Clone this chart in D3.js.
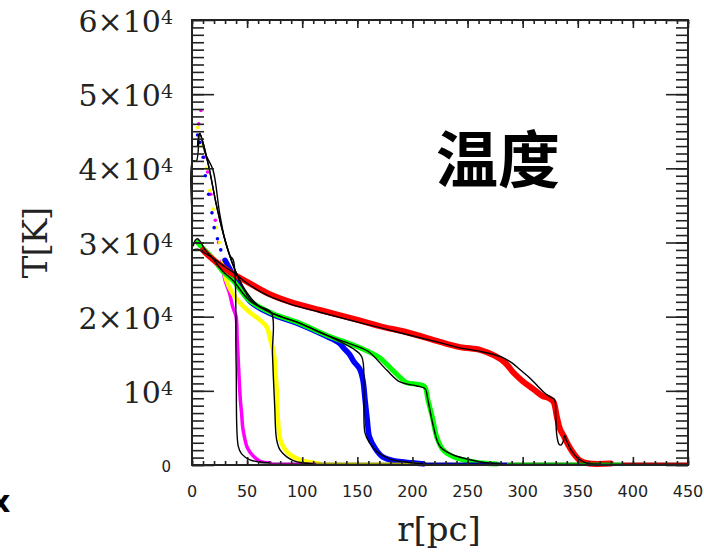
<!DOCTYPE html>
<html>
<head>
    <meta charset="utf-8">
    <title>T[K] vs r[pc]</title>
    <script src="https://d3js.org/d3.v7.min.js"></script>
    <style>
        html, body { margin: 0; padding: 0; background: #fff; }
        svg { display: block; }
    </style>
</head>
<body>
<div id="chart"></div>
<script>
    // tick values / labels
    const xTicks = [0, 50, 100, 150, 200, 250, 300, 350, 400, 450];
    const yTicks = [0, 10000, 20000, 30000, 40000, 50000, 60000];
    const yTickBase = ["0", "10", "2×10", "3×10", "4×10", "5×10", "6×10"];
    const yTickExp = ["", "4", "4", "4", "4", "4", "4"];

    // coloured simulation data [r (pc), T (K)] - sparse points near the peak
    const magentaSteep = [[7, 46000], [9, 47800], [12, 41500], [15, 39500], [18, 36500], [22, 33000], [25, 30000]];
    const yellowSteep = [[6, 45500], [10, 43000], [14, 40000], [17, 37000], [20, 34500], [23, 32000], [26, 30000]];
    const blueSteep = [[6, 44500], [8, 43500], [11, 41500], [13, 39000], [16, 36500], [19, 34000], [21, 32000], [24, 30500], [27, 29000]];

    // coloured simulation data [r (pc), T (K)] - dense part
    const magentaData = [[27, 27500], [30, 24900], [34, 23200], [37, 21300], [40, 20000], [41, 17000], [42, 14000], [43, 11000], [44, 8500], [45, 7000], [46, 5100], [48, 3500], [50, 2400], [55, 1300], [62, 500], [71, 300]];
    const yellowData = [[28, 27500], [31, 25000], [37, 23100], [50, 20900], [62, 19500], [68, 18600], [71, 16900], [74, 15300], [76, 12000], [77, 9700], [78, 6100], [80, 3500], [84, 2200], [89, 1400], [98, 700], [110, 300], [116, 150]];
    const blueData = [[30, 27600], [34, 26500], [39, 25200], [53, 22000], [72, 20350], [98, 18950], [122, 17350], [133, 16500], [138, 15700], [143, 14900], [147, 13900], [152, 13000], [155, 11500], [157, 8800], [159, 6100], [161, 3800], [166, 2300], [173, 1100], [186, 500], [200, 300], [210, 150]];
    const greenData = [[5, 30000], [10, 29200], [18, 28000], [28, 26100], [37, 24900], [52, 22200], [72, 20500], [98, 19100], [122, 17500], [146, 16200], [160, 15300], [170, 14500], [182, 12800], [195, 11100], [204, 10900], [211, 10600], [214, 8800], [218, 6500], [222, 3800], [228, 2000], [237, 1100], [249, 600], [260, 300], [277, 150]];
    const redData = [[10, 29000], [14.5, 28300], [25, 27000], [34.5, 26000], [50, 24700], [68, 23200], [89, 22000], [116, 20900], [152, 19500], [171, 18700], [195, 17900], [225, 16600], [243, 15900], [262, 15500], [275, 14700], [284, 13800], [292, 12400], [300, 11300], [310, 10200], [318, 9300], [324, 9000], [328, 8500], [331, 6500], [334, 4800], [337, 4000], [341, 2800], [346, 1600], [352, 600], [360, 200], [380, 200]];

    // black model curves [r (pc), T (K)]
    const magentaModel = [[0.5, 33000], [0.7, 41000], [4, 41000], [7, 44700], [12, 42000], [19, 39800], [25, 34000], [30, 30300], [34.5, 28200], [37.5, 27600], [40, 14000], [42, 2500], [45, 1500], [52.6, 700], [62, 400], [70, 300]];
    const yellowModel = [[5, 43000], [7, 44700], [14.5, 40700], [22.5, 34800], [30, 30300], [39, 26300], [50, 23200], [60, 21500], [72, 20500], [73, 15000], [75, 8000], [76.8, 3400], [80, 2000], [86, 1100], [92, 600], [100, 300], [110, 150]];
    const blueModel = [[5, 43000], [7, 44700], [14.5, 40700], [22.5, 34800], [30, 30300], [39, 26300], [52.6, 22400], [72, 20500], [98, 19100], [122, 17500], [140, 16200], [146, 15700], [154, 14600], [156, 10000], [157, 4300], [161.5, 2900], [167.6, 1800], [179.6, 800], [194, 400], [210, 150]];
    const greenModel = [[1, 29500], [3, 30300], [5, 30500], [8, 30000], [12, 29000], [18, 28000], [28, 26100], [37, 24900], [52, 22200], [72, 20500], [98, 19100], [122, 17500], [146, 16200], [160, 15300], [176.6, 12800], [188.7, 11200], [204, 10650], [211.4, 10300], [214, 8800], [219, 5200], [225, 2500], [237, 1350], [250, 800], [262, 400], [280, 150]];
    const redModel = [[1, 29000], [5, 29100], [10, 28700], [19, 27900], [30, 26700], [39, 25800], [50, 24500], [68, 22900], [89, 21700], [116, 20600], [152, 19200], [195, 17600], [225, 16500], [243, 15800], [262, 15300], [280, 14600], [290, 13800], [298, 12800], [306, 11800], [314, 10600], [320, 9700], [326, 9100], [329, 8800], [330, 6500], [331, 4000], [333, 2800], [335, 2700], [337, 3300], [338, 4000], [340, 3200], [344, 2000], [350, 900], [358, 250], [370, 100]];

    // zero-level segments along the r axis
    const zeroStart = [62, 71, 113, 207, 286, 390];
    const zeroEnd = [71, 113, 207, 286, 390, 450];
    const zeroColors = ["#999999", "#990099", "#999900", "#000099", "#009900", "#990000"];

    const W = 704, H = 553;
    const svg = d3.select("#chart").append("svg")
        .attr("width", W)
        .attr("height", H);

    const x = d3.scaleLinear().domain([0, 450]).range([192, 688]);
    const y = d3.scaleLinear().domain([0, 60000]).range([465, 20]);

    const line = d3.line()
        .x(d => x(d[0]))
        .y(d => y(d[1]))
        .curve(d3.curveCatmullRom.alpha(0.5));

    // sparse coloured points near the peak
    [[magentaSteep, "#ff00ff"], [yellowSteep, "#ffff00"], [blueSteep, "#0000ff"]].forEach(([pts, c]) => {
        svg.selectAll(null)
            .data(pts)
            .enter().append("circle")
            .attr("cx", d => x(d[0]) - 1)
            .attr("cy", d => y(d[1]))
            .attr("r", 1.8)
            .attr("fill", c);
    });

    // coloured data bands
    const bands = [
        { data: magentaData, color: "#ff00ff", w: 3.5 },
        { data: yellowData, color: "#ffff00", w: 4.5 },
        { data: blueData, color: "#0000ff", w: 5.5 },
        { data: greenData, color: "#00ff00", w: 5 },
        { data: redData, color: "#ff0000", w: 6 }
    ];
    bands.forEach(b => {
        svg.append("path")
            .datum(b.data)
            .attr("d", line)
            .attr("fill", "none")
            .attr("stroke", b.color)
            .attr("stroke-width", b.w)
            .attr("stroke-linejoin", "round")
            .attr("stroke-linecap", "round");
    });

    // zero baseline segments
    zeroStart.forEach((s, i) => {
        svg.append("line")
            .attr("x1", x(s)).attr("x2", x(zeroEnd[i]))
            .attr("y1", y(0) - 1).attr("y2", y(0) - 1)
            .attr("stroke", zeroColors[i])
            .attr("stroke-width", 3);
    });

    // black model lines
    [magentaModel, yellowModel, blueModel, greenModel, redModel].forEach(m => {
        svg.append("path")
            .datum(m)
            .attr("d", line)
            .attr("fill", "none")
            .attr("stroke", "#000")
            .attr("stroke-width", 1.4);
    });

    // ticks (inward, all four sides)
    function ticks(axis, tr) {
        const g = svg.append("g").attr("transform", tr).call(axis);
        g.select(".domain").remove();
        g.selectAll("line").attr("stroke", "#222").attr("stroke-width", 1.6);
        g.selectAll("text").remove();
    }
    const xMinor = d3.range(0, 451, 10), yMinor = d3.range(0, 60001, 1000);
    ticks(d3.axisTop(x).tickValues(xMinor).tickSize(4), `translate(0,${y(0)})`);
    ticks(d3.axisTop(x).tickValues(xTicks).tickSize(8), `translate(0,${y(0)})`);
    ticks(d3.axisBottom(x).tickValues(xMinor).tickSize(4), `translate(0,${y(60000)})`);
    ticks(d3.axisBottom(x).tickValues(xTicks).tickSize(8), `translate(0,${y(60000)})`);
    ticks(d3.axisRight(y).tickValues(yMinor).tickSize(12), `translate(${x(0)},0)`);
    ticks(d3.axisRight(y).tickValues(yTicks).tickSize(22), `translate(${x(0)},0)`);
    ticks(d3.axisLeft(y).tickValues(yMinor).tickSize(12), `translate(${x(450)},0)`);
    ticks(d3.axisLeft(y).tickValues(yTicks).tickSize(22), `translate(${x(450)},0)`);

    // frame
    svg.append("rect")
        .attr("x", x(0)).attr("y", y(60000))
        .attr("width", x(450) - x(0)).attr("height", y(0) - y(60000))
        .attr("fill", "none")
        .attr("stroke", "#222")
        .attr("stroke-width", 2);

    // x tick labels
    svg.selectAll("text.xt")
        .data(xTicks)
        .enter().append("text")
        .attr("class", "xt")
        .attr("x", d => x(d))
        .attr("y", 497)
        .attr("text-anchor", "middle")
        .style("font-family", "DejaVu Sans")
        .style("font-size", "16px")
        .style("fill", "#222")
        .text(d => d);

    // y tick labels
    yTicks.forEach((v, i) => {
        if (v === 0) {
            svg.append("text")
                .attr("x", 171).attr("y", y(0) + 7)
                .attr("text-anchor", "end")
                .style("font-family", "DejaVu Sans")
                .style("font-size", "15px")
                .style("fill", "#222")
                .text(yTickBase[i]);
            return;
        }
        const t = svg.append("text")
            .attr("x", 173).attr("y", y(v) + 12)
            .attr("text-anchor", "end")
            .style("font-family", "DejaVu Serif")
            .style("font-size", "30px")
            .style("fill", "#222");
        t.append("tspan").text(yTickBase[i]);
        t.append("tspan").attr("dy", -8).style("font-size", "19px").text(yTickExp[i]);
    });

    // axis titles
    svg.append("text")
        .attr("transform", "translate(47,243) rotate(-90)")
        .attr("text-anchor", "middle")
        .style("font-family", "DejaVu Serif")
        .style("font-size", "34px")
        .style("letter-spacing", "-1px")
        .style("fill", "#222")
        .text("T[K]");

    svg.append("text")
        .attr("x", 439).attr("y", 541)
        .attr("text-anchor", "middle")
        .style("font-family", "DejaVu Serif")
        .style("font-size", "34px")
        .style("fill", "#222")
        .text("r[pc]");

    // annotation
    svg.append("text")
        .attr("x", 436).attr("y", 183)
        .style("font-family", "Noto Sans CJK SC")
        .style("font-weight", "bold")
        .style("font-size", "62px")
        .style("fill", "#000")
        .text("温度");

    svg.append("text")
        .attr("x", -9).attr("y", 512)
        .style("font-family", "DejaVu Sans")
        .style("font-weight", "bold")
        .style("font-size", "30px")
        .style("fill", "#000")
        .text("x");
</script>
</body>
</html>
